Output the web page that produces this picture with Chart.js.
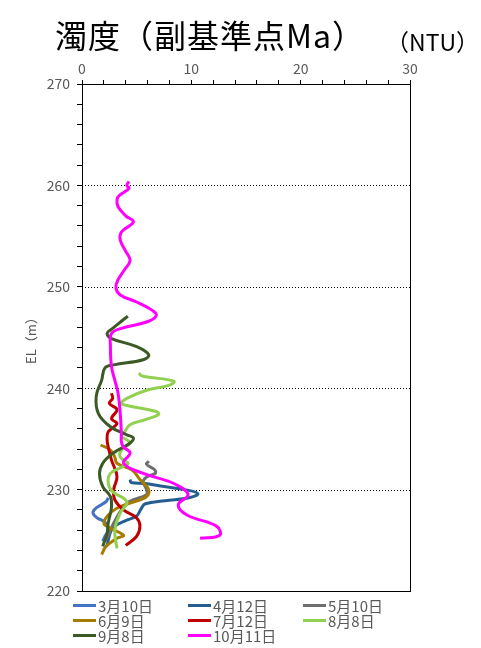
<!DOCTYPE html>
<html>
<head>
<meta charset="utf-8">
<script src="https://cdn.jsdelivr.net/npm/chart.js@4"></script>
<style>
    body { margin: 0; background: #fff; font-family: "Noto Sans CJK JP", sans-serif; }
    #wrap { position: relative; width: 481px; height: 648px; }
    #title { position: absolute; left: 0; top: 13px; width: 420px; text-align: center; font-size: 32px; letter-spacing: 1px; color: #000; line-height: 42px; }
    #unit { position: absolute; right: 2px; top: 26px; font-size: 23px; color: #000; line-height: 30px; }
    #legend { position: absolute; left: 73px; top: 598px; display: grid; grid-template-columns: 115px 115px 115px; }
    .item { display: flex; align-items: center; height: 15px; font-size: 15px; color: #595959; }
    .swatch { width: 23px; height: 3px; margin-right: 2px; }
</style>
</head>
<body>
<div id="wrap">
    <canvas id="chart" width="481" height="648"></canvas>
    <div id="title">濁度（副基準点Ma）</div>
    <div id="unit">（NTU）</div>
    <div id="legend"></div>
</div>
<script>
// series names and colours
const seriesLabels = ['3月10日', '4月12日', '5月10日', '6月9日', '7月12日', '8月8日', '9月8日', '10月11日'];
const seriesColors = ['#4472C4', '#255E91', '#6F6F6F', '#A67C00', '#C00000', '#92D050', '#3B5A26', '#FF00FF'];

// axis settings
const xMin = 0, xMax = 30;
const yMin = 220, yMax = 270;
const gridLevels = [230, 240, 250, 260];

// elevation (m) / turbidity (NTU) per survey
const elMar10 = [229.2, 228.8, 228.2, 227.7, 227.2, 226.8, 226.0, 225.4, 224.9];
const ntuMar10 = [2.4, 2.2, 1.3, 1.0, 1.4, 2.1, 2.4, 2.1, 1.9];

const elApr12 = [231.0, 230.7, 230.6, 230.3, 230.0, 229.6, 229.2, 228.9, 228.6, 228.1, 227.4, 226.9, 226.4, 225.8, 224.5];
const ntuApr12 = [4.4, 4.5, 5.8, 7.5, 9.4, 10.6, 9.8, 7.6, 5.8, 5.4, 5.0, 3.9, 3.0, 2.6, 2.3];

const elMay10 = [232.8, 232.5, 232.0, 231.6, 231.3, 230.8, 230.0, 229.5, 228.8, 228.0, 226.7, 225.5, 224.9];
const ntuMay10 = [6.1, 5.9, 6.6, 6.7, 6.0, 5.6, 5.9, 5.9, 4.3, 3.6, 2.9, 2.4, 2.1];

const elJun9 = [234.4, 233.9, 233.2, 232.6, 231.9, 231.0, 230.2, 229.6, 229.1, 228.5, 227.8, 226.7, 226.2, 225.5, 225.2, 224.4, 223.6];
const ntuJun9 = [1.7, 2.6, 3.0, 3.2, 4.6, 5.3, 6.0, 6.1, 5.6, 3.9, 2.7, 2.0, 2.6, 3.8, 3.2, 2.2, 1.8];

const elJul12 = [239.5, 239.0, 238.5, 237.9, 237.0, 236.5, 235.7, 234.9, 234.2, 232.9, 231.3, 230.0, 229.0, 228.0, 227.2, 226.4, 225.4, 224.5];
const ntuJul12 = [2.7, 2.8, 2.5, 3.2, 2.7, 3.2, 2.4, 2.3, 2.4, 2.7, 3.2, 2.9, 3.0, 3.8, 5.0, 5.3, 5.0, 4.0];

const elAug8 = [241.5, 241.2, 240.7, 240.3, 239.8, 239.0, 238.5, 238.3, 237.7, 237.4, 236.9, 236.4, 235.7, 235.3, 234.9, 234.6, 233.9, 233.2, 232.6, 232.3, 231.6, 230.6, 229.8, 228.8, 227.7, 226.0, 224.2];
const ntuAug8 = [5.2, 5.5, 8.4, 8.0, 5.9, 4.1, 3.6, 4.1, 6.8, 7.0, 5.8, 4.4, 3.9, 3.6, 4.1, 4.4, 3.6, 3.5, 4.2, 3.8, 2.6, 2.4, 2.8, 4.1, 3.5, 3.0, 3.2];

const elSep8 = [247.1, 246.6, 245.9, 245.4, 244.9, 244.1, 243.3, 242.8, 242.3, 242.0, 240.8, 239.2, 237.5, 236.2, 235.4, 235.1, 234.6, 233.9, 233.4, 232.6, 231.6, 230.3, 229.3, 228.3, 226.7, 225.7, 224.4];
const ntuSep8 = [4.2, 3.6, 2.8, 2.3, 2.7, 5.0, 6.1, 5.6, 2.9, 2.1, 1.8, 1.3, 1.5, 2.6, 4.1, 4.7, 4.4, 3.3, 2.6, 1.9, 1.6, 1.9, 2.6, 2.7, 2.4, 2.3, 1.9];

const elOct11 = [260.4, 260.0, 259.7, 259.0, 258.6, 257.9, 257.0, 256.4, 255.4, 254.6, 253.5, 252.6, 251.7, 250.7, 249.9, 249.2, 248.5, 247.7, 247.2, 246.6, 245.9, 245.4, 244.1, 242.1, 240.8, 239.5, 237.5, 235.5, 234.7, 234.2, 233.6, 232.6, 231.6, 230.6, 229.5, 228.5, 227.5, 226.4, 225.5, 225.2];
const ntuOct11 = [4.3, 4.1, 4.3, 3.4, 3.2, 3.3, 4.0, 4.7, 3.6, 3.5, 4.0, 4.4, 3.9, 3.3, 3.1, 3.5, 5.0, 6.4, 6.8, 6.1, 3.6, 2.7, 2.6, 2.7, 3.0, 3.3, 3.5, 3.6, 3.6, 3.8, 4.4, 3.8, 5.6, 8.4, 9.7, 8.8, 9.6, 12.3, 12.6, 10.8];

const elevations = [elMar10, elApr12, elMay10, elJun9, elJul12, elAug8, elSep8, elOct11];
const turbidity = [ntuMar10, ntuApr12, ntuMay10, ntuJun9, ntuJul12, ntuAug8, ntuSep8, ntuOct11];

const datasets = seriesLabels.map((label, i) => ({
    label: label,
    data: elevations[i].map((el, j) => ({ x: turbidity[i][j], y: el })),
    borderColor: seriesColors[i],
    backgroundColor: seriesColors[i],
    borderWidth: 3,
    pointRadius: 0,
    showLine: true,
    tension: 0.4,
    order: seriesLabels.length - i // later series drawn on top
}));

// dotted grid lines and outer frame
const framePlugin = {
    id: 'frame',
    beforeDatasetsDraw(chart) {
        const { ctx, chartArea, scales } = chart;
        ctx.save();
        ctx.strokeStyle = '#000';
        ctx.lineWidth = 1;
        ctx.setLineDash([1, 2]);
        gridLevels.forEach(v => {
            const y = Math.round(scales.y.getPixelForValue(v)) + 0.5;
            ctx.beginPath();
            ctx.moveTo(chartArea.left, y);
            ctx.lineTo(chartArea.right, y);
            ctx.stroke();
        });
        ctx.restore();
    },
    afterDraw(chart) {
        const { ctx, chartArea } = chart;
        ctx.save();
        ctx.strokeStyle = '#000';
        ctx.lineWidth = 1;
        ctx.strokeRect(chartArea.left + 0.5, chartArea.top + 0.5, chartArea.right - chartArea.left, chartArea.bottom - chartArea.top);
        ctx.restore();
    }
};

const tickFont = { family: '"Noto Sans CJK JP", sans-serif', size: 14 };

new Chart(document.getElementById('chart'), {
    type: 'scatter',
    data: { datasets: datasets },
    options: {
        responsive: false,
        animation: false,
        layout: { padding: { top: 0, left: 0, right: 71, bottom: 57 } },
        plugins: {
            legend: { display: false },
            tooltip: { enabled: false }
        },
        scales: {
            x: {
                type: 'linear',
                position: 'top',
                min: xMin,
                max: xMax,
                afterFit: scale => { scale.height = 84; },
                border: { color: '#000', width: 1 },
                grid: { drawOnChartArea: false, color: '#000', tickLength: 4 },
                ticks: {
                    stepSize: 2,
                    autoSkip: false,
                    maxRotation: 0,
                    padding: 3,
                    color: '#595959',
                    font: tickFont,
                    callback: v => (v % 10 === 0 ? v : '')
                }
            },
            y: {
                type: 'linear',
                min: yMin,
                max: yMax,
                afterFit: scale => { scale.width = 82; },
                border: { color: '#000', width: 1 },
                grid: { drawOnChartArea: false, color: '#000', tickLength: 5 },
                ticks: {
                    stepSize: 2,
                    autoSkip: false,
                    padding: 7,
                    color: '#595959',
                    font: tickFont,
                    callback: v => (v % 10 === 0 ? v : '')
                },
                title: {
                    display: true,
                    text: 'EL（m）',
                    color: '#595959',
                    font: { family: '"Noto Sans CJK JP", sans-serif', size: 13 },
                    padding: { top: 23, bottom: 0 }
                }
            }
        }
    },
    plugins: [framePlugin]
});

// legend, three columns like the original
const legendBox = document.getElementById('legend');
seriesLabels.forEach((label, i) => {
    const item = document.createElement('div');
    item.className = 'item';
    item.innerHTML = `<span class="swatch" style="background:${seriesColors[i]}"></span>${label}`;
    legendBox.appendChild(item);
});
</script>
</body>
</html>
